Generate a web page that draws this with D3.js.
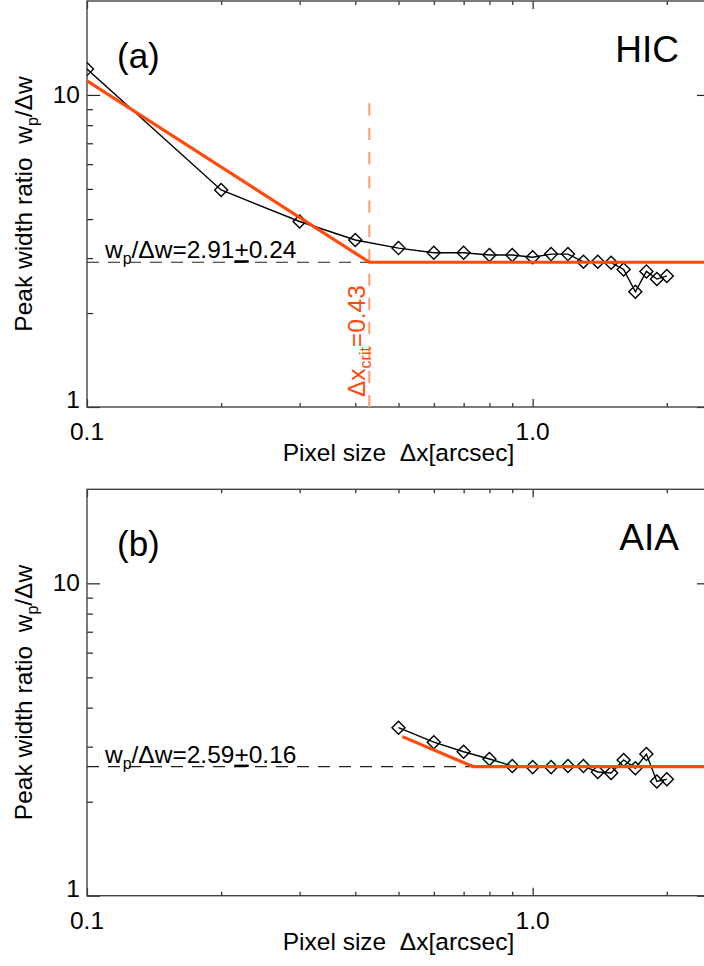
<!DOCTYPE html>
<html>
<head>
<meta charset="utf-8">
<script src="https://cdn.jsdelivr.net/npm/d3@7"></script>
<style>
  html, body { margin: 0; padding: 0; background: #fff; }
  svg { display: block; }
  text { font-family: "Liberation Sans", Arial, Helvetica, sans-serif; }
</style>
</head>
<body>
<svg id="chart" width="704" height="966"></svg>
<script>
// ---------------- data ----------------
const xMajorTicks = [0.1, 1.0];
const xMinorTicks = [0.2, 0.3, 0.4, 0.5, 0.6, 0.7, 0.8, 0.9, 2.0];
const yMajorTicks = [1, 10];
const yMinorTicks = [2, 3, 4, 5, 6, 7, 8, 9];

const pixelSizeA = [0.1, 0.2, 0.3, 0.4, 0.5, 0.6, 0.7, 0.8, 0.9, 1.0, 1.1, 1.2, 1.3, 1.4, 1.5, 1.6, 1.7, 1.8, 1.9, 2.0];
const ratioA     = [12.1, 4.96, 3.93, 3.43, 3.23, 3.12, 3.12, 3.07, 3.07, 3.02, 3.09, 3.09, 2.92, 2.92, 2.90, 2.76, 2.34, 2.72, 2.57, 2.63];
const fitXA = [0.1, 0.43, 2.5];
const fitYA = [11.1, 2.91, 2.91];
const meanA = 2.91, errA = 0.24, xcritA = 0.43, xcritTopA = 9.4;

const pixelSizeB = [0.5, 0.6, 0.7, 0.8, 0.9, 1.0, 1.1, 1.2, 1.3, 1.4, 1.5, 1.6, 1.7, 1.8, 1.9, 2.0];
const ratioB     = [3.45, 3.10, 2.89, 2.74, 2.60, 2.58, 2.58, 2.60, 2.60, 2.49, 2.47, 2.72, 2.56, 2.84, 2.32, 2.36];
const fitXB = [0.51, 0.735, 2.5];
const fitYB = [3.23, 2.59, 2.59];
const meanB = 2.59, errB = 0.16;

const panels = [
  { tag: "(a)", inst: "HIC", xs: pixelSizeA, ys: ratioA, fx: fitXA, fy: fitYA, mean: meanA, err: errA, xcrit: xcritA, xcritTop: xcritTopA, top: 1, bottom: 407 },
  { tag: "(b)", inst: "AIA", xs: pixelSizeB, ys: ratioB, fx: fitXB, fy: fitYB, mean: meanB, err: errB, xcrit: null, top: 489.3, bottom: 895.7 }
];

// ---------------- layout ----------------
const svg = d3.select("#chart");
const left = 87, right = 710;
const x = d3.scaleLog().domain([0.1, 2.5]).range([left, right]);
const orange = "#ff4a0a";
const lightOrange = "#ff9a70";
const fs = 24.5;

function label(g, px, py, rot, anchor, size, build) {
  const t = g.append("text")
    .attr("transform", `translate(${px},${py})` + (rot ? ` rotate(${rot})` : ""))
    .attr("text-anchor", anchor)
    .attr("font-size", size)
    .attr("xml:space", "preserve");
  build(t);
  return t;
}

panels.forEach((p, i) => {
  const g = svg.append("g");
  const y = d3.scaleLog().domain([1, 20]).range([p.bottom, p.top]);
  const clipId = "clip" + i;
  svg.append("clipPath").attr("id", clipId).append("rect")
    .attr("x", left).attr("y", p.top).attr("width", right - left).attr("height", p.bottom - p.top);

  // axes (ticks inward)
  const axStyle = sel => { sel.select(".domain").remove(); sel.selectAll("line").attr("stroke", "#222").attr("stroke-width", 1.2); };
  g.append("g").attr("transform", `translate(0,${p.bottom})`)
    .call(d3.axisBottom(x).tickValues(xMajorTicks).tickSize(-8).tickFormat(() => "")).call(axStyle);
  g.append("g").attr("transform", `translate(0,${p.bottom})`)
    .call(d3.axisBottom(x).tickValues(xMinorTicks).tickSize(-4).tickFormat(() => "")).call(axStyle);
  g.append("g").attr("transform", `translate(0,${p.top})`)
    .call(d3.axisTop(x).tickValues(xMajorTicks).tickSize(-8).tickFormat(() => "")).call(axStyle);
  g.append("g").attr("transform", `translate(0,${p.top})`)
    .call(d3.axisTop(x).tickValues(xMinorTicks).tickSize(-4).tickFormat(() => "")).call(axStyle);
  g.append("g").attr("transform", `translate(${left},0)`)
    .call(d3.axisLeft(y).tickValues(yMajorTicks).tickSize(-13).tickFormat(() => "")).call(axStyle);
  g.append("g").attr("transform", `translate(${left},0)`)
    .call(d3.axisLeft(y).tickValues(yMinorTicks).tickSize(-6).tickFormat(() => "")).call(axStyle);
  g.append("g").attr("transform", `translate(${right},0)`)
    .call(d3.axisRight(y).tickValues(yMajorTicks).tickSize(-13).tickFormat(() => "")).call(axStyle);
  g.append("g").attr("transform", `translate(${right},0)`)
    .call(d3.axisRight(y).tickValues(yMinorTicks).tickSize(-6).tickFormat(() => "")).call(axStyle);

  // frame
  g.append("rect").attr("x", left).attr("y", p.top).attr("width", right - left).attr("height", p.bottom - p.top)
    .attr("fill", "none").attr("stroke", "#444").attr("stroke-width", 1.4);

  // tick labels
  xMajorTicks.forEach(v => label(g, x(v), p.bottom + 33, 0, "middle", fs, t => t.text(d3.format(".1f")(v))));
  yMajorTicks.forEach((v, k) => label(g, left - 7, y(v) + (k === 0 ? 1 : 8), 0, "end", fs, t => t.text(String(v))));

  // axis titles
  label(g, (left + right) / 2, p.bottom + 54, 0, "middle", fs, t => t.text("Pixel size  \u0394x[arcsec]"));
  label(g, 32, (p.top + p.bottom) / 2, -90, "middle", fs, t => {
    t.append("tspan").text("Peak width ratio  w");
    t.append("tspan").text("p").attr("font-size", fs * 0.65).attr("dy", 6);
    t.append("tspan").text("/\u0394w").attr("dy", -6);
  });

  const plot = g.append("g").attr("clip-path", `url(#${clipId})`);

  // mean dashed line
  plot.append("line").attr("x1", left).attr("x2", right).attr("y1", y(p.mean)).attr("y2", y(p.mean))
    .attr("stroke", "#222").attr("stroke-width", 1.2).attr("stroke-dasharray", "12,9");

  // critical pixel size
  if (p.xcrit !== null) {
    plot.append("line").attr("x1", x(p.xcrit)).attr("x2", x(p.xcrit)).attr("y1", y(p.xcritTop)).attr("y2", p.bottom)
      .attr("stroke", lightOrange).attr("stroke-width", 2).attr("stroke-dasharray", "12.3,12");
  }

  // data
  const line = d3.line().x(d => x(d[0])).y(d => y(d[1]));
  const pts = p.xs.map((v, k) => [v, p.ys[k]]);
  plot.append("path").datum(pts).attr("d", line).attr("fill", "none").attr("stroke", "#000").attr("stroke-width", 1.4);
  const sym = d3.symbol().type(d3.symbolSquare).size(85);
  plot.selectAll("path.pt").data(pts).join("path").attr("class", "pt")
    .attr("d", sym).attr("transform", d => `translate(${x(d[0])},${y(d[1])}) rotate(45)`)
    .attr("fill", "none").attr("stroke", "#000").attr("stroke-width", 1.4);

  // fit
  const fit = p.fx.map((v, k) => [v, p.fy[k]]);
  plot.append("path").datum(fit).attr("d", line).attr("fill", "none").attr("stroke", orange)
    .attr("stroke-width", 3.2).attr("stroke-linejoin", "round");

  // labels inside
  g.append("text").attr("x", 117).attr("y", p.top + 67).attr("font-size", 35).text(p.tag);
  g.append("text").attr("x", 679).attr("y", p.top + 61).attr("font-size", 37).attr("text-anchor", "end").text(p.inst);

  label(g, 105, y(p.mean) - 4, 0, "start", fs, t => {
    t.append("tspan").text("w");
    t.append("tspan").text("p").attr("font-size", fs * 0.65).attr("dy", 6);
    t.append("tspan").text("/\u0394w=" + p.mean.toFixed(2)).attr("dy", -6);
    t.append("tspan").text("+").style("text-decoration", "underline");
    t.append("tspan").text(p.err.toFixed(2));
  });

  if (p.xcrit !== null) {
    label(g, x(p.xcrit) - 4, p.bottom - 10, -90, "start", fs, t => {
      t.attr("fill", orange);
      t.append("tspan").text("\u0394x");
      t.append("tspan").text("crit").attr("font-size", fs * 0.65).attr("dy", 6);
      t.append("tspan").text("=" + p.xcrit.toFixed(2)).attr("dy", -6);
    });
  }
});
</script>
</body>
</html>
